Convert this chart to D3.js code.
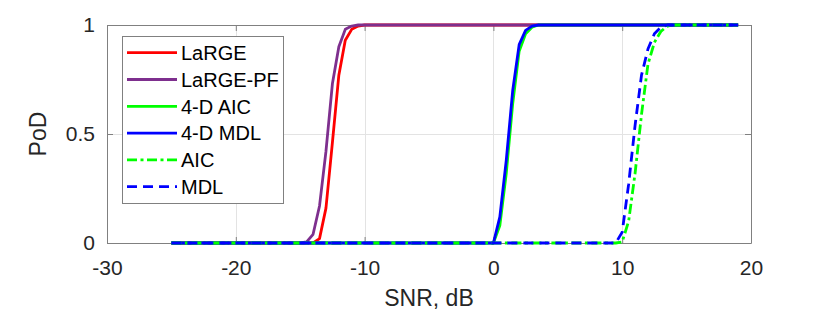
<!DOCTYPE html>
<html><head><meta charset="utf-8">
<script src="https://cdn.jsdelivr.net/npm/d3@7"></script>
<style>html,body{margin:0;padding:0;background:#fff;}svg{display:block;font-family:"Liberation Sans",Arial,Helvetica,sans-serif;}</style>
</head><body><svg id="c" width="830" height="316"></svg>
<script>
// ---- data ----
const xTicks = [-30, -20, -10, 0, 10, 20];
const xTickLabels = ["-30", "-20", "-10", "0", "10", "20"];
const yTicks = [0, 0.5, 1];
const yTickLabels = ["0", "0.5", "1"];

const snrLaRGE = [-25, -14, -13.5, -13, -12.5, -12, -11.5, -11, -10.5, -10, 19];
const podLaRGE = [0, 0, 0.02, 0.16, 0.46, 0.77, 0.93, 0.98, 0.995, 1, 1];

const snrLaRGEPF = [-25, -15, -14.5, -14, -13.5, -13, -12.5, -12, -11.5, -11, -10.5, 19];
const podLaRGEPF = [0, 0, 0.005, 0.04, 0.17, 0.42, 0.73, 0.90, 0.98, 0.995, 1, 1];

const snr4D = [-25, 0, 0.5, 1, 1.5, 2, 2.5, 3, 3.5, 19];
const pod4DAIC = [0, 0, 0.08, 0.32, 0.64, 0.88, 0.96, 0.99, 1, 1];
const pod4DMDL = [0, 0, 0.12, 0.38, 0.70, 0.91, 0.975, 0.995, 1, 1];

const snrAIC = [-25, 9.5, 10, 10.5, 11, 11.5, 12, 12.5, 13, 13.5, 14, 19];
const podAIC = [0, 0, 0.005, 0.10, 0.32, 0.59, 0.82, 0.92, 0.97, 0.995, 1, 1];

const snrMDL = [-25, 9.5, 10, 10.5, 11, 11.5, 12, 12.5, 13, 13.5, 19];
const podMDL = [0, 0, 0.05, 0.27, 0.54, 0.77, 0.89, 0.96, 0.99, 1, 1];

const seriesNames = ["LaRGE", "LaRGE-PF", "4-D AIC", "4-D MDL", "AIC", "MDL"];
const seriesColors = ["#ff0000", "#7e2f8e", "#00ff00", "#0000ff", "#00ff00", "#0000ff"];
const seriesDash = [null, null, null, null, "10,3.5,3,3.5", "10,6"];
const seriesX = [snrLaRGE, snrLaRGEPF, snr4D, snr4D, snrAIC, snrMDL];
const seriesY = [podLaRGE, podLaRGEPF, pod4DAIC, pod4DMDL, podAIC, podMDL];

// ---- layout ----
const L = 107, R = 751, T = 25, B = 243;
const svg = d3.select("#c");
const x = d3.scaleLinear().domain([-30, 20]).range([L, R]);
const y = d3.scaleLinear().domain([0, 1]).range([B, T]);
const axisColor = "#808080", textColor = "#262626";

// grid
const g = svg.append("g");
g.selectAll(".gx").data(xTicks.slice(1, -1)).join("line")
  .attr("x1", d => Math.round(x(d)) + 0.5).attr("x2", d => Math.round(x(d)) + 0.5)
  .attr("y1", T).attr("y2", B).attr("stroke", "#e3e3e3").attr("stroke-width", 1);
g.selectAll(".gy").data([0.5]).join("line")
  .attr("y1", d => Math.round(y(d)) + 0.5).attr("y2", d => Math.round(y(d)) + 0.5)
  .attr("x1", L).attr("x2", R).attr("stroke", "#e3e3e3").attr("stroke-width", 1);

// axes (ticks inward, box on)
const ax = svg.append("g").attr("transform", `translate(0,${B})`)
  .call(d3.axisBottom(x).tickValues(xTicks).tickSizeInner(-6).tickSizeOuter(0).tickPadding(17).tickFormat((d, i) => xTickLabels[i]));
const axTop = svg.append("g").attr("transform", `translate(0,${T})`)
  .call(d3.axisTop(x).tickValues(xTicks).tickSizeInner(-6).tickSizeOuter(0).tickFormat(""));
const ay = svg.append("g").attr("transform", `translate(${L},0)`)
  .call(d3.axisLeft(y).tickValues(yTicks).tickSizeInner(-6).tickSizeOuter(0).tickPadding(12).tickFormat((d, i) => yTickLabels[i]));
const ayR = svg.append("g").attr("transform", `translate(${R},0)`)
  .call(d3.axisRight(y).tickValues(yTicks).tickSizeInner(-6).tickSizeOuter(0).tickFormat(""));
[ax, axTop, ay, ayR].forEach(a => {
  a.selectAll(".domain").attr("stroke", axisColor);
  a.selectAll(".tick line").attr("stroke", axisColor);
  a.selectAll("text").attr("fill", textColor).style("font-size", "21px").style("font-family", '"Liberation Sans",Arial,sans-serif');
});
ax.selectAll("text").attr("dy", "0.71em");

// lines
const line = d3.line().x(d => x(d[0])).y(d => y(d[1]));
const lines = svg.append("g");
seriesNames.forEach((name, i) => {
  const pts = seriesX[i].map((v, j) => [v, seriesY[i][j]]);
  lines.append("path").datum(pts).attr("d", line)
    .attr("fill", "none").attr("stroke", seriesColors[i]).attr("stroke-width", 2.8)
    .attr("stroke-linejoin", "round")
    .attr("stroke-dasharray", seriesDash[i]);
});

// axis labels
svg.append("text").attr("x", (L + R) / 2).attr("y", 298).attr("dy", "0.36em").attr("text-anchor", "middle")
  .attr("fill", textColor).style("font-size", "23px").text("SNR, dB");
svg.append("text").attr("transform", `translate(38,${(T + B) / 2}) rotate(-90)`).attr("dy", "0.36em").attr("text-anchor", "middle")
  .attr("fill", textColor).style("font-size", "23px").text("PoD");

// legend
const lg = svg.append("g");
const lx = 122, ly = 36, lw = 161, lh = 167, rowH = 26.8;
lg.append("rect").attr("x", lx + 0.5).attr("y", ly + 0.5).attr("width", lw).attr("height", lh)
  .attr("fill", "#fff").attr("stroke", "#808080").attr("stroke-width", 1);
seriesNames.forEach((name, i) => {
  const cy = 52.7 + i * rowH;
  lg.append("line").attr("x1", 127).attr("x2", 177).attr("y1", cy).attr("y2", cy)
    .attr("stroke", seriesColors[i]).attr("stroke-width", 2.8).attr("stroke-dasharray", seriesDash[i]);
  lg.append("text").attr("x", 181).attr("y", cy).attr("dy", "0.36em")
    .attr("fill", "#000").style("font-size", "20px").text(name);
});
</script></body></html>
